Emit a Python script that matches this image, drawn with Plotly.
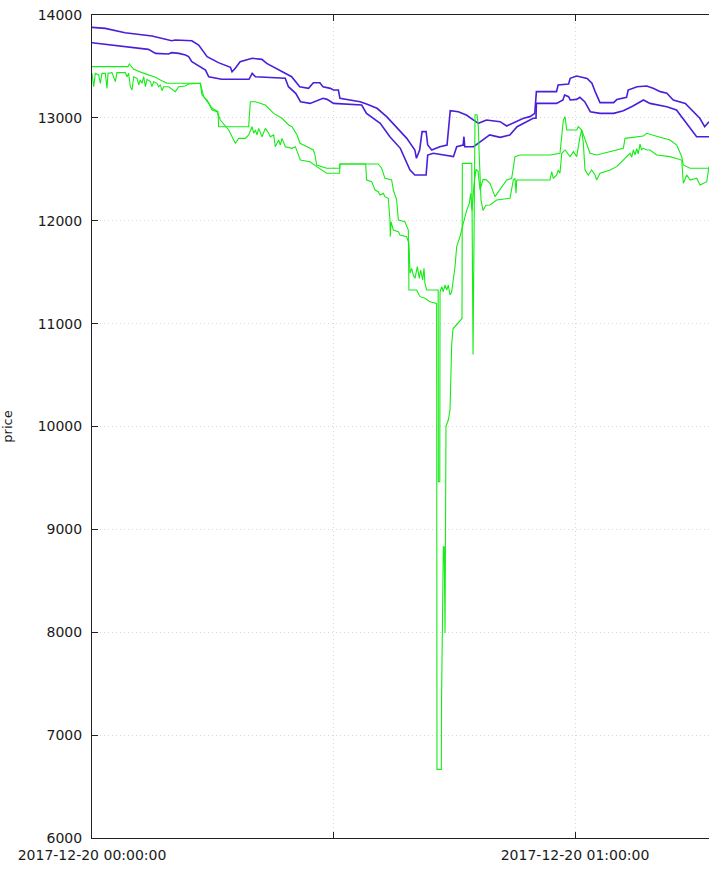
import pandas as pd
import plotly.graph_objects as go

# minutes after 2017-12-20 00:00:00 and price
ask_hi_min = [0, 1.65, 4.1, 7.45, 9.9, 10.35, 12.4, 13.25, 14.3, 15.7, 17.2, 17.4, 17.8, 18.4, 19.9,
              21.1, 21.7, 23.2, 24.8, 25.8, 26.9, 27.5, 28.3, 28.7, 29.6, 30.0, 30.6, 30.8, 33.3,
              34.1, 35.4, 36.6, 37.8, 39.1, 40.1, 40.3, 40.7, 41.0, 41.5, 41.7, 42.2, 43.2, 44.1,
              44.5, 45.5, 46.5, 47.4, 48.0, 49.0, 50.7, 51.5, 52.3, 53.6, 54.4, 55.0, 55.2, 57.7,
              57.9, 59.2, 59.4, 60.2, 61.5, 62.1, 62.5, 63.1, 64.8, 65.2, 66.4, 66.6, 67.7, 68.9,
              69.7, 70.6, 71.4, 72.2, 73.7, 74.3, 75.5, 76.1, 76.64]
ask_hi = [13880, 13870, 13828, 13796, 13750, 13757, 13750, 13708, 13595, 13537, 13492, 13449, 13482,
          13546, 13579, 13569, 13530, 13465, 13400, 13303, 13287, 13342, 13342, 13303, 13287, 13271,
          13271, 13190, 13157, 13135, 13093, 13012, 12914, 12801, 12688, 12607, 12688, 12866, 12866,
          12736, 12688, 12720, 12736, 13070, 13060, 13028, 12979, 12947, 12979, 12963, 12921, 12947,
          12996, 13012, 13044, 13255, 13255, 13320, 13329, 13384, 13407, 13384, 13336, 13255, 13148,
          13148, 13180, 13200, 13271, 13303, 13310, 13287, 13255, 13239, 13174, 13141, 13093, 12996,
          12914, 12963]

ask_lo_min = [0, 2.5, 5.4, 7.0, 7.9, 9.5, 9.9, 10.8, 11.6, 12.0, 12.4, 14.1, 14.5, 16.1, 19.5, 19.9,
              20.3, 24.0, 24.4, 25.3, 25.9, 27.1, 28.7, 29.2, 30.0, 33.5, 34.1, 35.8, 37.0, 38.3,
              39.5, 40.1, 41.5, 41.7, 42.4, 44.9, 45.3, 46.1, 46.2, 46.3, 47.4, 48.0, 48.6, 49.4,
              50.7, 51.9, 52.8, 54.0, 54.8, 55.15, 55.2, 57.7, 58.5, 58.7, 59.2, 59.4, 60.2, 60.6,
              61.2, 61.9, 63.1, 64.8, 66.0, 67.2, 68.5, 69.3, 71.4, 72.6, 73.4, 74.3, 75.1, 76.64]
ask_lo = [13731, 13708, 13676, 13666, 13627, 13621, 13634, 13627, 13611, 13595, 13546, 13465, 13400,
          13375, 13375, 13433, 13400, 13385, 13303, 13239, 13157, 13141, 13190, 13180, 13141, 13125,
          13044, 12947, 12817, 12704, 12493, 12445, 12445, 12639, 12656, 12623, 12720, 12736, 12817,
          12720, 12720, 12753, 12785, 12834, 12811, 12834, 12914, 12963, 12996, 12996, 13141, 13141,
          13174, 13222, 13206, 13174, 13180, 13200, 13157, 13060, 13044, 13044, 13070, 13115, 13174,
          13141, 13109, 13077, 12996, 12899, 12817, 12817]

bid_a_min = [0, 4.47, 4.64, 4.89, 5.18, 6.21, 7.04, 7.87, 8.49, 8.9, 9.32, 13.46, 13.66, 14.29, 14.91,
             15.65, 15.73, 19.46, 19.67, 20.29, 21.53, 22.57, 23.6, 24.43, 24.84, 25.47, 25.84,
             27.08, 27.5, 27.7, 27.91, 29.15, 30.75, 30.8, 35.56, 35.98, 36.39, 37.22, 37.43, 37.84,
             38.05, 38.87, 39.29, 39.37, 40.32, 40.74, 41.36, 41.98, 42.81, 42.85, 43.39, 43.42,
             43.64, 43.75, 43.85, 43.97, 44.26, 44.47, 44.56, 44.68, 44.84, 45.46, 45.96, 46.0,
             47.17, 47.33, 47.58, 47.83, 47.99, 48.07, 48.32, 48.57, 48.94, 49.44, 50.27, 51.92,
             52.33, 52.54, 52.67, 52.76, 56.89, 57.1, 57.3, 57.72, 57.92, 58.13, 58.35, 58.76,
             59.38, 59.79, 60.21, 60.62, 60.83, 61.03, 61.24, 61.65, 62.07, 62.48, 62.69, 63.1,
             64.35, 65.18, 66.0, 66.83, 67.05, 67.24, 67.45, 67.66, 67.85, 68.07, 68.25, 68.48,
             68.9, 69.31, 70.14, 71.8, 73.25, 73.45, 73.88, 74.29, 75.12, 75.53, 76.36, 76.64]
bid_a = [13498, 13498, 13524, 13504, 13472, 13440, 13417, 13394, 13368, 13352, 13336, 13336, 13222,
         13174, 13093, 13060, 12914, 12914, 13157, 13157, 13125, 13044, 12996, 12931, 12914, 12834,
         12753, 12704, 12688, 12639, 12542, 12510, 12510, 12552, 12552, 12510, 12412, 12396, 12299,
         12202, 12007, 11991, 11910, 11327, 11327, 11262, 11246, 11213, 11197, 6667, 6667, 7342,
         8832, 8830, 7993, 10002, 10063, 10160, 10549, 10800, 10950, 11000, 11050, 12558, 12558,
         10700, 13030, 13030, 12914, 12700, 12200, 12100, 12150, 12153, 12202, 12218, 12396, 12413,
         12267, 12396, 12396, 12477, 12413, 12445, 12493, 12461, 12656, 12688, 12623, 12672, 12623,
         12817, 12882, 12753, 12493, 12445, 12493, 12445, 12396, 12461, 12493, 12526, 12590, 12656,
         12620, 12690, 12640, 12700, 12650, 12745, 12690, 12704, 12688, 12688, 12639, 12623, 12590,
         12364, 12445, 12396, 12413, 12348, 12380, 12526]

bid_b_min = [0, 0.21, 0.41, 0.83, 1.04, 1.24, 1.66, 1.86, 1.99, 2.48, 2.9, 3.1, 4.14, 4.35, 4.55,
             4.76, 4.97, 5.18, 5.59, 5.8, 6.0, 6.21, 6.42, 6.63, 6.83, 7.25, 7.45, 7.66, 8.07, 8.28,
             8.49, 8.7, 8.9, 9.52, 10.35, 10.77, 11.59, 12.0, 13.46, 13.87, 14.49, 14.91, 15.53,
             15.94, 16.98, 17.8, 18.22, 19.05, 19.46, 19.88, 20.08, 20.29, 20.5, 20.7, 21.12, 21.53,
             21.95, 22.15, 22.57, 22.77, 23.19, 23.39, 23.6, 24.02, 24.84, 25.26, 25.88, 27.08,
             27.91, 29.15, 30.75, 30.8, 33.99, 34.11, 34.74, 35.15, 35.56, 35.77, 36.19, 36.39,
             36.8, 36.93, 37.01, 37.05, 37.14, 37.43, 38.05, 38.26, 39.08, 39.37, 39.5, 39.7, 39.91,
             40.12, 40.41, 40.66, 40.82, 41.07, 41.24, 41.36, 41.57, 43.0, 43.02, 43.2, 43.23,
             43.44, 43.64, 43.85, 44.06, 44.26, 44.47, 44.68, 45.09, 45.3, 45.71, 46.12, 46.55,
             46.87, 47.04, 47.2, 47.45, 47.7, 47.95, 48.2, 48.57, 48.94, 49.44, 50.06, 50.68, 51.51,
             52.13, 52.54, 53.17, 56.89, 58.13, 58.35, 58.55, 58.76, 58.97, 60.21, 60.41, 60.83,
             61.24, 61.65, 61.86, 62.69, 65.18, 66.0, 66.21, 67.66, 68.48, 68.9, 69.72, 70.35,
             71.8, 72.63, 73.25, 73.45, 74.29, 76.64]
bid_b = [13433, 13303, 13433, 13417, 13336, 13433, 13433, 13287, 13433, 13440, 13352, 13440, 13440,
         13400, 13433, 13303, 13271, 13400, 13384, 13320, 13368, 13336, 13400, 13303, 13375, 13352,
         13303, 13352, 13336, 13303, 13320, 13264, 13303, 13303, 13255, 13303, 13310, 13329, 13336,
         13206, 13141, 13077, 13060, 12979, 12882, 12753, 12801, 12801, 12834, 12914, 12850, 12882,
         12834, 12898, 12817, 12898, 12850, 12817, 12834, 12720, 12785, 12736, 12801, 12720, 12704,
         12720, 12590, 12574, 12526, 12461, 12461, 12552, 12552, 12396, 12380, 12299, 12283, 12250,
         12267, 12234, 12218, 12121, 12007, 11845, 11991, 11910, 11894, 11861, 11845, 11780, 11489,
         11537, 11473, 11440, 11554, 11440, 11521, 11424, 11537, 11392, 11327, 11327, 9464, 9464,
         11310, 11359, 11310, 11375, 11327, 11375, 11278, 11310, 11553, 11748, 11845, 11975, 12104,
         12169, 12267, 12100, 12350, 12500, 12480, 12300, 12400, 12400, 12364, 12234, 12299, 12396,
         12413, 12623, 12639, 12639, 12656, 12817, 12979, 13012, 12882, 12882, 12914, 12882, 12785,
         12688, 12656, 12639, 12688, 12704, 12801, 12817, 12823, 12850, 12834, 12817, 12785, 12736,
         12623, 12542, 12510, 12510]

start = pd.Timestamp("2017-12-20 00:00:00")


def to_time(mins):
    return start + pd.to_timedelta(mins, unit="min")


x_ticks = [to_time(0), to_time(30), to_time(60)]
x_labels = ["2017-12-20 00:00:00", "", "2017-12-20 01:00:00"]

blue = "#4a1fd8"
green = "#14ec14"

fig = go.Figure()
fig.add_trace(go.Scatter(x=to_time(ask_hi_min), y=ask_hi, mode="lines",
                         line=dict(color=blue, width=1.6)))
fig.add_trace(go.Scatter(x=to_time(ask_lo_min), y=ask_lo, mode="lines",
                         line=dict(color=blue, width=1.6)))
fig.add_trace(go.Scatter(x=to_time(bid_a_min), y=bid_a, mode="lines",
                         line=dict(color=green, width=1.1)))
fig.add_trace(go.Scatter(x=to_time(bid_b_min), y=bid_b, mode="lines",
                         line=dict(color=green, width=1.1)))

fig.update_layout(
    width=709, height=880,
    margin=dict(l=92, r=0, t=15, b=42),
    paper_bgcolor="white", plot_bgcolor="white",
    showlegend=False,
    font=dict(family="DejaVu Sans", size=14, color="#1a1a1a"),
    xaxis=dict(range=[to_time(0), to_time(76.64)], tickvals=x_ticks, ticktext=x_labels,
               ticks="inside", ticklen=6, tickcolor="#222", showline=True, linecolor="#222",
               linewidth=1, mirror="ticks", showgrid=True, gridcolor="#d8d8d8",
               griddash="1px,3px", gridwidth=1, zeroline=False, ticklabelstandoff=4),
    yaxis=dict(range=[6000, 14000], dtick=1000, tickformat="d",
               ticks="inside", ticklen=6, tickcolor="#222", showline=True, linecolor="#222",
               linewidth=1, showgrid=True, gridcolor="#d8d8d8", griddash="1px,3px", gridwidth=1,
               zeroline=False, ticklabelstandoff=6,
               title=dict(text="price", standoff=24, font=dict(size=13))),
)

# the page's default 8px body margin would push the chart off the window
fig.write_html("out.html", config={"displayModeBar": False},
               post_script="document.body.style.margin='0';")
